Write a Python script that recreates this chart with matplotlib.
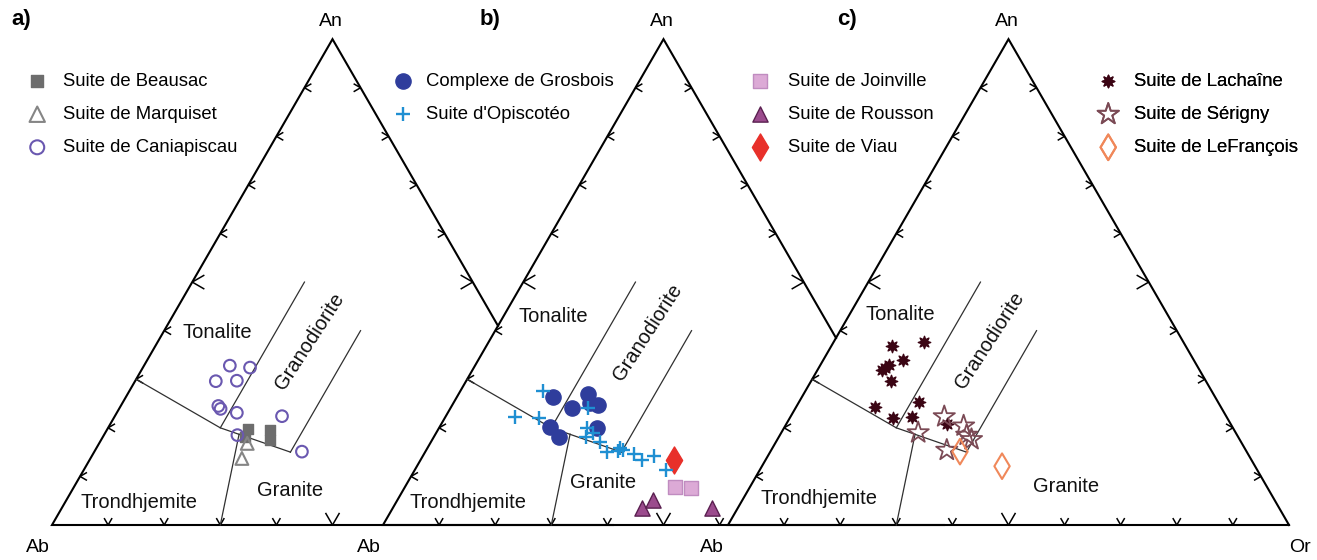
import numpy as np
import matplotlib.pyplot as plt
from matplotlib.collections import LineCollection

plt.rcParams['font.family'] = ['Liberation Sans', 'DejaVu Sans']

# ---- data: An and Or in % (Ab = 100 - An - Or) ----
# panel a
beausac_an = [19.7, 18.1, 19.6, 17.5]
beausac_or = [25.0, 25.4, 29.1, 30.1]
marquiset_an = [16.8, 13.7]
marquiset_or = [26.4, 27.0]
caniap_an = [32.8, 32.4, 29.6, 29.7, 24.5, 23.9, 23.1, 22.4, 18.5, 15.1]
caniap_or = [15.3, 19.1, 14.4, 18.1, 17.4, 18.1, 21.4, 29.8, 23.8, 37.0]
# panel b
grosbois_an = [26.3, 27.0, 24.7, 24.0, 25.1, 20.0, 20.2, 18.2]
grosbois_or = [17.2, 23.0, 26.0, 21.7, 24.3, 28.2, 19.7, 22.2]
opisc_an = [27.6, 22.3, 22.1, 24.0, 20.0, 18.2, 18.9, 17.1, 15.0, 15.9,
            15.4, 15.2, 14.6, 13.4, 14.1, 11.3]
opisc_or = [14.7, 12.4, 16.8, 24.6, 26.3, 27.1, 28.0, 30.1, 32.4, 34.3,
            35.1, 34.3, 37.5, 39.4, 41.2, 44.8]
joinville_an = [7.9, 7.7]
joinville_or = [48.1, 51.1]
rousson_an = [3.4, 5.1, 3.4]
rousson_or = [44.5, 45.6, 56.9]
viau_an = [13.4]
viau_or = [45.2]
# panel c
lachaine_an = [36.8, 37.7, 34.0, 32.3, 32.9, 31.9, 29.7, 24.2, 25.4, 22.1, 22.3, 20.8]
lachaine_or = [10.8, 16.0, 14.2, 11.9, 12.3, 11.5, 14.2, 14.1, 21.4, 18.3, 21.6, 28.7]
serigny_an = [22.3, 20.4, 19.0, 18.5, 17.6, 15.4]
serigny_or = [27.4, 31.8, 24.4, 33.3, 34.6, 31.3]
lefrancois_an = [15.1, 12.1]
lefrancois_or = [33.8, 42.8]

# field boundaries, (An, Or) pairs
boundaries = [
    [(30, 0), (20, 20), (15, 35)],
    [(20, 20), (50, 20)],
    [(15, 35), (40, 35)],
    [(0, 30), (18.7, 24)],
]

# ---- layout (pixel units) ----
W, H = 1317, 560
SIDE = 561
HGT = SIDE * np.sqrt(3) / 2
BASE_Y = 525
ORIGINS = [52, 383, 728]
C30, S30 = np.cos(np.pi / 6), 0.5


def tern(x0, an, orr):
    an = np.asarray(an, float) / 100
    orr = np.asarray(orr, float) / 100
    return x0 + SIDE * (orr + an / 2), BASE_Y - HGT * an


fig = plt.figure(figsize=(W / 100, H / 100), dpi=100)
ax = fig.add_axes([0, 0, 1, 1])
ax.set_xlim(0, W)
ax.set_ylim(H, 0)
ax.axis('off')

for k, x0 in enumerate(ORIGINS):
    nxt = ORIGINS[k + 1] if k + 1 < len(ORIGINS) else None
    # right edge stops where it meets the next triangle's left edge
    tcut = (x0 + SIDE - nxt) / SIDE if nxt is not None else 0.0
    apex = (x0 + SIDE / 2, BASE_Y - HGT)
    rx = x0 + SIDE - SIDE / 2 * tcut
    ry = BASE_Y - HGT * tcut
    ax.plot([rx, apex[0], x0, x0 + SIDE], [ry, apex[1], BASE_Y, BASE_Y],
            color='k', lw=1.5, solid_joinstyle='miter', zorder=2)
    segs = []
    for i in range(1, 10):
        f = i / 10
        L = 14 if i == 5 else 8
        px = x0 + SIDE * f
        if nxt is None or px < nxt - 3:
            for dx in (S30, -S30):
                segs.append([(px, BASE_Y), (px + dx * L, BASE_Y - C30 * L)])
        px, py = x0 + SIDE / 2 * f, BASE_Y - HGT * f
        for dy in (S30, -S30):
            segs.append([(px, py), (px + C30 * L, py + dy * L)])
        if f > tcut + 0.02:
            px = x0 + SIDE - SIDE / 2 * f
            for dy in (S30, -S30):
                segs.append([(px, py), (px - C30 * L, py + dy * L)])
    ax.add_collection(LineCollection(segs, colors='k', linewidths=1.1, zorder=2))
    for b in boundaries:
        an, orr = zip(*b)
        bx, by = tern(x0, an, orr)
        ax.plot(bx, by, color='#303030', lw=0.9, zorder=2)

# field labels, offsets from the Ab corner of each triangle
field_pos = [
    {'Tonalite': (165, -193), 'Granodiorite': (258, -184),
     'Granite': (238, -34), 'Trondhjemite': (87, -22)},
    {'Tonalite': (170, -208), 'Granodiorite': (265, -193),
     'Granite': (220, -43), 'Trondhjemite': (85, -22)},
    {'Tonalite': (172, -210), 'Granodiorite': (262, -185),
     'Granite': (338, -38), 'Trondhjemite': (91, -26)},
]
for x0, pos in zip(ORIGINS, field_pos):
    for name, (dx, dy) in pos.items():
        rot = 57 if name == 'Granodiorite' else 0
        ax.text(x0 + dx, BASE_Y + dy, name, fontsize=14.5, rotation=rot,
                ha='center', va='center', color='#111111', zorder=3)

# corner labels
for x0 in ORIGINS:
    ax.text(x0 + SIDE / 2 - 2, 21, 'An', fontsize=14, ha='center', va='center')
for x in [38, 369, 712]:
    ax.text(x, 548, 'Ab', fontsize=14, ha='center', va='center')
ax.text(1300, 548, 'Or', fontsize=14, ha='center', va='center')
for x, t in [(21, 'a)'), (490, 'b)'), (847, 'c)')]:
    ax.text(x, 20, t, fontsize=16, fontweight='bold', ha='center', va='center')

# ---- data points ----
x0a, x0b, x0c = ORIGINS
h_beau = ax.scatter(*tern(x0a, beausac_an, beausac_or), marker='s', s=60,
                    color='#6d6d6d', zorder=4, label='Suite de Beausac')
h_marq = ax.scatter(*tern(x0a, marquiset_an, marquiset_or), marker='^', s=85,
                    facecolor='none', edgecolor='#858585', lw=1.5, zorder=5,
                    label='Suite de Marquiset')
h_cani = ax.scatter(*tern(x0a, caniap_an, caniap_or), marker='o', s=70,
                    facecolor='none', edgecolor='#6a58b0', lw=1.5, zorder=5,
                    label='Suite de Caniapiscau')

h_gros = ax.scatter(*tern(x0b, grosbois_an, grosbois_or), marker='o', s=120,
                    color='#2f3d9c', zorder=4, label='Complexe de Grosbois')
h_opis = ax.scatter(*tern(x0b, opisc_an, opisc_or), marker='+', s=110,
                    color='#1f8fd2', lw=1.7, zorder=5, label="Suite d'Opiscotéo")
h_join = ax.scatter(*tern(x0b, joinville_an, joinville_or), marker='s', s=100,
                    facecolor='#dcaad6', edgecolor='#c08cc0', lw=1, zorder=4,
                    label='Suite de Joinville')
h_rous = ax.scatter(*tern(x0b, rousson_an, rousson_or), marker='^', s=120,
                    facecolor='#9b4b8d', edgecolor='#5a2050', lw=1, zorder=4,
                    label='Suite de Rousson')
h_viau = ax.scatter(*tern(x0b, viau_an, viau_or), marker='d', s=190,
                    color='#e8302a', zorder=4, label='Suite de Viau')

h_lach = ax.scatter(*tern(x0c, lachaine_an, lachaine_or), marker=(8, 1, 0), s=80,
                    color='#3b0514', zorder=4, label='Suite de Lachaîne')
h_seri = ax.scatter(*tern(x0c, serigny_an, serigny_or), marker='*', s=260,
                    facecolor='none', edgecolor='#7b4a55', lw=1.3, zorder=5,
                    label='Suite de Sérigny')
h_lefr = ax.scatter(*tern(x0c, lefrancois_an, lefrancois_or), marker='d', s=170,
                    facecolor='none', edgecolor='#f0885a', lw=1.5, zorder=5,
                    label='Suite de LeFrançois')

# ---- legends ----
groups = [
    ([h_beau, h_marq, h_cani], 28, 0.9, 1.2),
    ([h_gros, h_opis], 394, 0.75, 1.0),
    ([h_join, h_rous, h_viau], 751, 1.0, 1.0),
    ([h_lach, h_seri, h_lefr], 1099, 0.9, 1.0),
]
for hs, xl, pad, msc in groups:
    leg = ax.legend(handles=hs, loc='upper left', bbox_to_anchor=(xl / W, 1 - 73 / H),
                    bbox_transform=fig.transFigure, frameon=False, fontsize=13.3,
                    handlelength=1.0, handletextpad=pad, labelspacing=0.87,
                    borderpad=0, borderaxespad=0, scatterpoints=1, markerscale=msc)
    ax.add_artist(leg)

fig.savefig('out.png', dpi=100, facecolor='white')
